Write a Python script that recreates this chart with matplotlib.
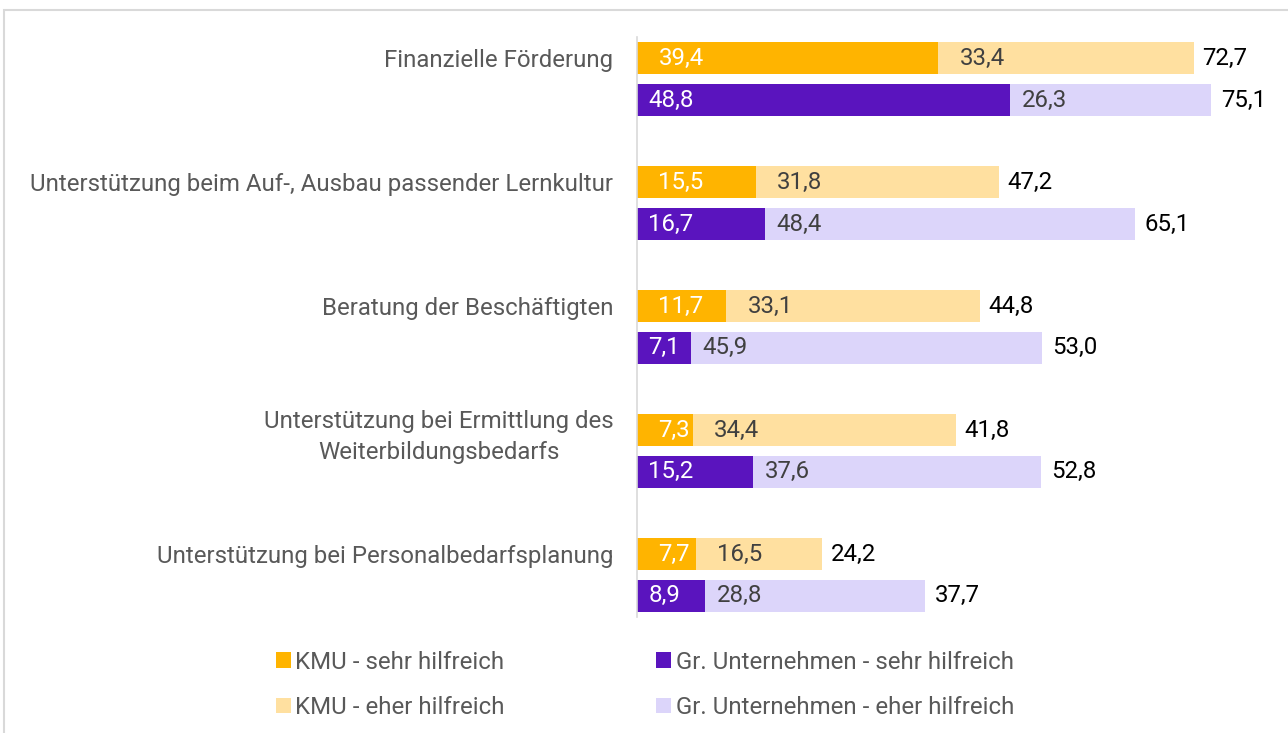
import numpy as np
import matplotlib.pyplot as plt
from matplotlib.patches import Rectangle

plt.rcParams['font.family'] = ['Roboto', 'DejaVu Sans']

categories = ["Finanzielle Förderung",
              "Unterstützung beim Auf-, Ausbau passender Lernkultur",
              "Beratung der Beschäftigten",
              "Unterstützung bei Ermittlung des\nWeiterbildungsbedarfs",
              "Unterstützung bei Personalbedarfsplanung"]
kmu_sehr = [39.4, 15.5, 11.7, 7.3, 7.7]
kmu_eher = [33.4, 31.8, 33.1, 34.4, 16.5]
kmu_total = [72.7, 47.2, 44.8, 41.8, 24.2]
gr_sehr = [48.8, 16.7, 7.1, 15.2, 8.9]
gr_eher = [26.3, 48.4, 45.9, 37.6, 28.8]
gr_total = [75.1, 65.1, 53.0, 52.8, 37.7]
series_names = ["KMU - sehr hilfreich", "KMU - eher hilfreich",
                "Gr. Unternehmen - sehr hilfreich", "Gr. Unternehmen - eher hilfreich"]

c_kmu_sehr = '#FFB400'
c_kmu_eher = '#FFE0A0'
c_gr_sehr = '#5A14BE'
c_gr_eher = '#DCD5FA'

def fmt(v):
    return f"{v:.1f}".replace(".", ",")

fig = plt.figure(figsize=(12.88, 7.33), dpi=100)
ax = fig.add_axes([637 / 1288, 116 / 733, 650 / 1288, 580 / 733])

y = np.arange(len(categories))
off = 0.169
h = 0.258
yk = y - off
yg = y + off

b1 = ax.barh(yk, kmu_sehr, height=h, color=c_kmu_sehr)
b2 = ax.barh(yk, kmu_eher, left=kmu_sehr, height=h, color=c_kmu_eher)
b3 = ax.barh(yg, gr_sehr, height=h, color=c_gr_sehr)
b4 = ax.barh(yg, gr_eher, left=gr_sehr, height=h, color=c_gr_eher)

fs = 17.3
for i in range(len(categories)):
    ax.text(2.8, yk[i], fmt(kmu_sehr[i]), color='white', va='center', fontsize=fs)
    ax.text(kmu_sehr[i] + 2.8, yk[i], fmt(kmu_eher[i]), color='#404040', va='center', fontsize=fs)
    ax.text(kmu_sehr[i] + kmu_eher[i] + 1.1, yk[i], fmt(kmu_total[i]), color='black', va='center', fontsize=fs)
    ax.text(1.5, yg[i], fmt(gr_sehr[i]), color='white', va='center', fontsize=fs)
    ax.text(gr_sehr[i] + 1.5, yg[i], fmt(gr_eher[i]), color='#404040', va='center', fontsize=fs)
    ax.text(gr_sehr[i] + gr_eher[i] + 1.3, yg[i], fmt(gr_total[i]), color='black', va='center', fontsize=fs)

ax.set_xlim(0, 85)
ax.set_ylim(len(categories) - 1 + 0.339, -0.339)
ax.set_yticks(yk)
ax.set_yticklabels(categories, fontsize=fs, color='#595959', ha='right',
                   multialignment='center', linespacing=1.45)
ax.tick_params(axis='y', length=0, pad=17)
ax.set_xticks([])
for s in ['top', 'right', 'bottom']:
    ax.spines[s].set_visible(False)
ax.spines['left'].set_color('#d9d9d9')
ax.spines['left'].set_linewidth(1.2)

fig.legend([b1, b2, b3, b4], series_names, ncol=2, loc='upper left',
           bbox_to_anchor=(254 / 1288, 1 - 629 / 733), frameon=False,
           fontsize=fs, labelcolor='#595959', handlelength=0.62, handleheight=0.62,
           handletextpad=0.2, columnspacing=6.3, labelspacing=0.93)

fig.patches.append(Rectangle((4 / 1288, -0.1), 1.2, 1 - 10 / 733 + 0.1,
                             transform=fig.transFigure, fill=False,
                             edgecolor='#d9d9d9', linewidth=1.5))

fig.savefig('out.png', dpi=100)
